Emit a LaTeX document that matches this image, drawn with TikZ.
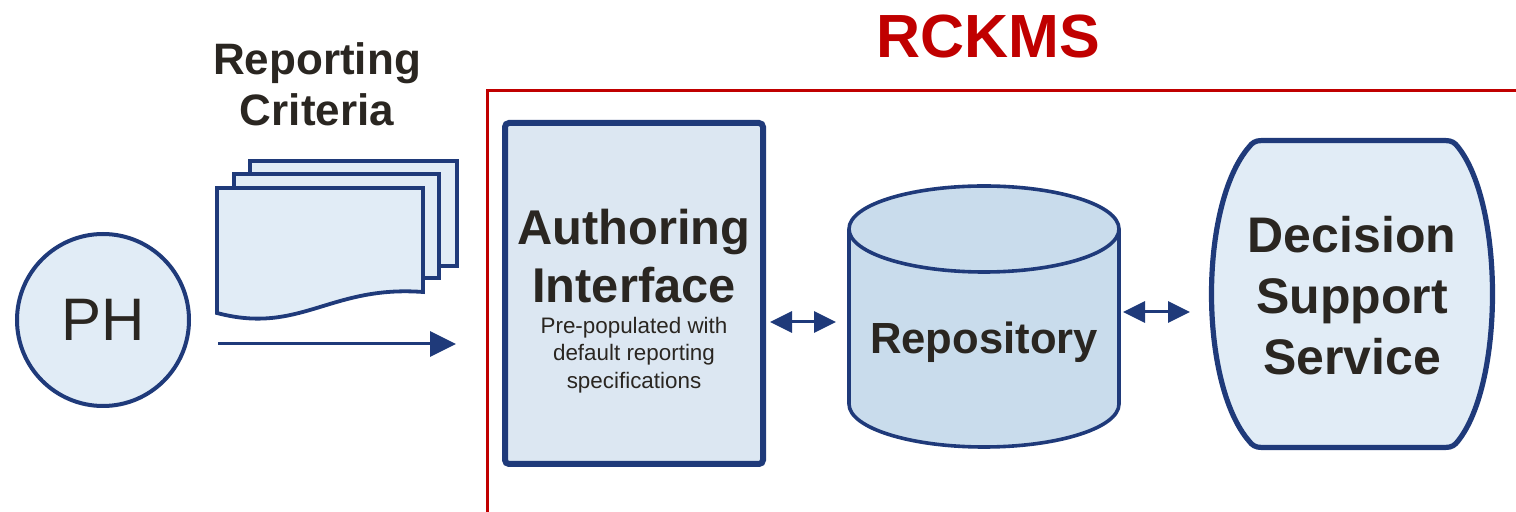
\documentclass[tikz,border=0pt]{standalone}
\usepackage{fontspec}
\setmainfont{Liberation Sans}
\usetikzlibrary{arrows.meta,positioning}
\definecolor{navy}{HTML}{1F3A7A}
\definecolor{paleblue}{HTML}{E1ECF6}
\definecolor{authblue}{HTML}{DCE7F2}
\definecolor{repoblue}{HTML}{C9DCEC}
\definecolor{inkdark}{HTML}{2A2621}
\definecolor{rckmsred}{HTML}{C00000}

\begin{document}
\begin{tikzpicture}[x=0.5pt, y=-0.5pt,
    every node/.style={text=inkdark, outer sep=0pt},
    flow/.style={navy, line width=1.5pt, -{Triangle[length=13pt,width=12.5pt]}},
    duplex/.style={navy, line width=1.5pt, {Triangle[length=11pt,width=10.5pt]}-{Triangle[length=11pt,width=10.5pt]}},
    page/.style={draw=navy, fill=paleblue, line width=1.9pt},
    bigbold/.style={font=\bfseries\fontsize{24.4pt}{29pt}\selectfont, align=center}
    ]
    \useasboundingbox (0,0) rectangle (1516,512);

    % RCKMS frame
    \draw[rckmsred, line width=1.5pt] (487,530) -- (487,91) -- (1530,91);
    \node[font=\bfseries\fontsize{30.5pt}{34pt}\selectfont, text=rckmsred] (rckms) at (988,37) {RCKMS};

    % PH
    \node[circle, draw=navy, fill=paleblue, line width=2pt, minimum size=86pt, inner sep=0pt,
      font=\fontsize{30pt}{34pt}\selectfont] (ph) at (103,320) {PH};

    % reporting criteria pages
    \node[font=\bfseries\fontsize{22pt}{25.5pt}\selectfont, align=center] (crit) at (317,84) {Reporting\\Criteria};
    \draw[page] (250,161) rectangle (457,266);
    \draw[page] (234,174) rectangle (439,278);
    \draw[page] (217,188) -- (423,188) -- (423,292)
      .. controls (330,285) and (300,335) .. (217,313) -- cycle;
    \coordinate (flowstart) at (218,344);
    \coordinate (flowend) at (456,344);
    \draw[flow] (flowstart) -- (flowend);

    % authoring interface
    \node[draw=navy, fill=authblue, line width=3pt, rounded corners=2pt,
      minimum width=129pt, minimum height=170.5pt] (auth) at (634,293.5) {};
    \node[bigbold] (authtxt) at (634,256) {Authoring\\Interface};
    \node[font=\fontsize{11.2pt}{13.75pt}\selectfont, align=center] (authsub) at (634,355)
      {Pre-populated with\\default reporting\\specifications};

    % repository
    \node[inner sep=0pt, minimum width=135pt, minimum height=131.5pt] (repo) at (984,316.5) {};
    \draw[navy, fill=repoblue, line width=1.8pt] (849,229) -- (849,404)
      arc[start angle=180, end angle=360, x radius=67.5pt, y radius=21.5pt] -- (1119,229)
      arc[start angle=0, end angle=180, x radius=67.5pt, y radius=21.5pt] -- cycle;
    \draw[navy, line width=1.8pt] (849,229)
      arc[start angle=180, end angle=360, x radius=67.5pt, y radius=21.5pt];
    \node[font=\bfseries\fontsize{21.8pt}{25pt}\selectfont] (repotxt) at (984,342) {Repository};

    % decision support service
    \draw[navy, fill=paleblue, line width=2.6pt] (1262,140.5) -- (1445,140.5)
      .. controls (1452,140.5) and (1455,143) .. (1458,147)
      .. controls (1504,205) and (1504,383) .. (1458,441)
      .. controls (1455,445) and (1452,447.5) .. (1445,447.5) -- (1262,447.5)
      .. controls (1255,447.5) and (1252,445) .. (1249,441)
      .. controls (1199,383) and (1199,205) .. (1249,147)
      .. controls (1252,143) and (1255,140.5) .. cycle;
    \node[bigbold, font=\bfseries\fontsize{25pt}{30.5pt}\selectfont, inner sep=0pt,
      minimum width=140.5pt, minimum height=153.5pt] (dss) at (1352,296) {Decision\\Support\\Service};

    % connectors
    \draw[duplex] ([xshift=3.5pt, yshift=-14.25pt]auth.east) -- ([xshift=-6.5pt, yshift=-2.75pt]repo.west);
    \draw[duplex] ([xshift=2pt, yshift=2.25pt]repo.east) -- ([xshift=-10.75pt, yshift=-8pt]dss.west);
\end{tikzpicture}
\end{document}
